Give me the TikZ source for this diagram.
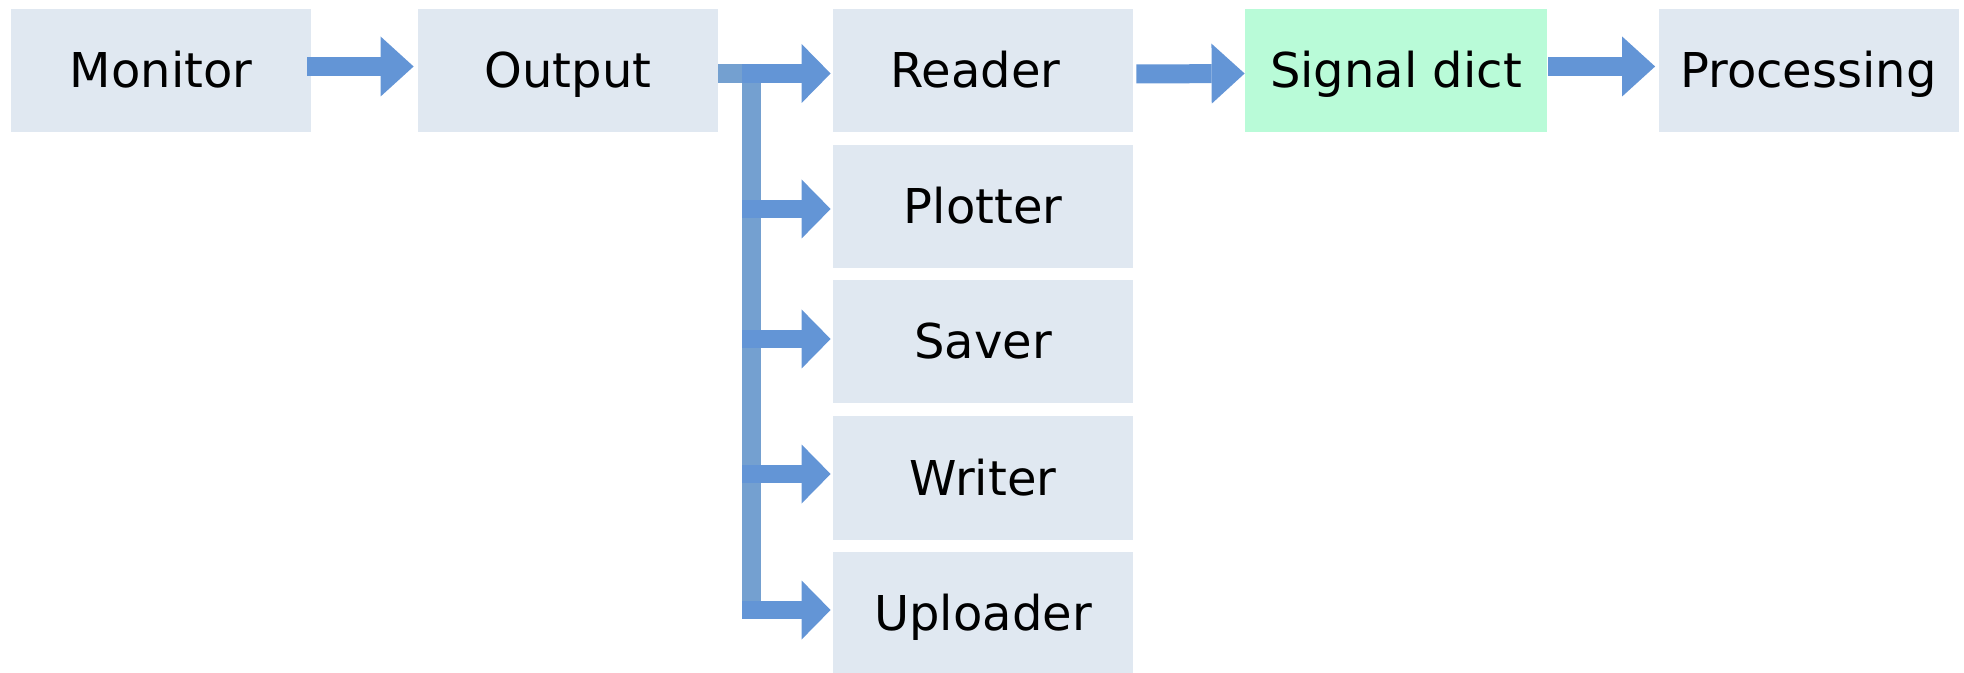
\documentclass[tikz,border=0pt]{standalone}
\usepackage{fontspec}
\setmainfont{DejaVu Sans}
\usetikzlibrary{arrows.meta,calc}
\definecolor{boxfill}{HTML}{E0E8F1}
\definecolor{dictfill}{HTML}{B9FBD8}
\definecolor{arrowblue}{HTML}{6395D6}
\definecolor{barblue}{HTML}{74A0D0}
\begin{document}
\begin{tikzpicture}[x=0.5pt,y=-0.5pt,
  box/.style={fill=boxfill, draw=none, minimum width=150pt, minimum height=61.5pt,
    inner sep=0pt, text height=18.5pt, text depth=1.5pt,
    font=\fontsize{24pt}{28pt}\selectfont},
  dictbox/.style={box, fill=dictfill, minimum width=151pt},
  flow/.style={draw=arrowblue, line width=9.5pt, line cap=butt,
    -{Triangle[length=16.5pt,width=30pt,line width=0pt]}},
  branch/.style={draw=arrowblue, line width=9.25pt, line cap=butt,
    -{Triangle[length=14.5pt,width=29.5pt,line width=0pt]}},
  trunk/.style={draw=barblue, line width=9.5pt, line cap=butt}]
\useasboundingbox (0,0) rectangle (1964,673);
% nodes
\node[box] (monitor) at (161,70.5) {Monitor};
\node[box] (output) at (568,70.5) {Output};
\node[box] (reader) at (983,71) {Reader\kern7.6pt};
\node[box] (plotter) at (983,206.5) {Plotter};
\node[box] (saver) at (983,342) {Saver};
\node[box] (writer) at (983,478) {Writer};
\node[box] (uploader) at (983,613.5) {Uploader};
\node[dictbox] (signal) at (1396,70.5) {Signal dict};
\node[box] (processing) at (1808.5,70.5) {Processing};
\coordinate (bartop) at (751.5,64);
\coordinate (barbot) at (751.5,619);
% connectors
\draw[flow] ($(monitor.east)+(-4,-4)$) -- ($(output.west)+(-4,-4)$);
\draw[trunk] ($(output.east)+(0,3)$) -- ($(bartop)+(9.5,9.5)$);
\draw[trunk] (bartop) -- (barbot);
\draw[branch] ($(bartop |- reader.west)+(-9.5,2.5)$) -- ($(reader.west)+(-2,2.5)$);
\draw[branch] ($(bartop |- plotter.west)+(-9.5,2.5)$) -- ($(plotter.west)+(-2,2.5)$);
\draw[branch] ($(bartop |- saver.west)+(-9.5,-3)$) -- ($(saver.west)+(-2,-3)$);
\draw[branch] ($(bartop |- writer.west)+(-9.5,-4)$) -- ($(writer.west)+(-2,-4)$);
\draw[branch] ($(bartop |- uploader.west)+(-9.5,-3.5)$) -- ($(uploader.west)+(-2,-3.5)$);
\draw[flow] ($(reader.east)+(3,3)$) -- ($(signal.west)+(0,3)$);
\draw[flow] ($(signal.east)+(1,-4)$) -- ($(processing.west)+(-3,-4)$);
\end{tikzpicture}
\end{document}
